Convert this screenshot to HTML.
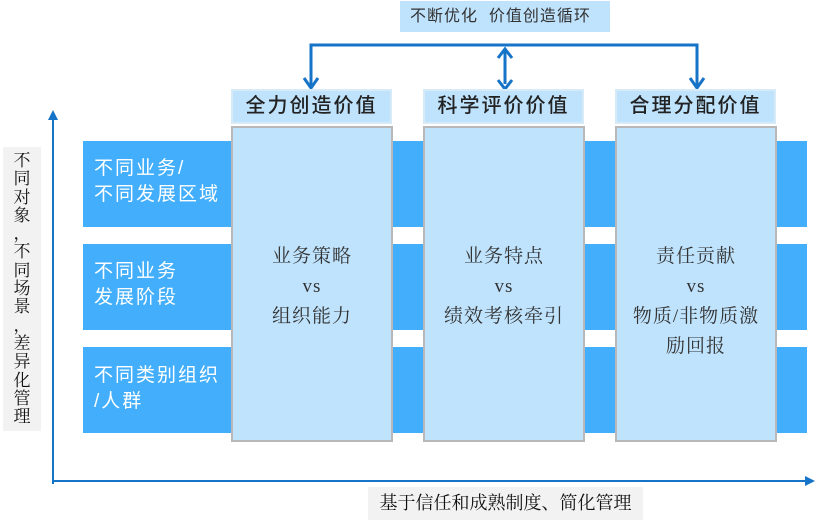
<!DOCTYPE html>
<html><head><meta charset="utf-8"><style>
body{margin:0;width:823px;height:525px;background:#fff;position:relative;overflow:hidden;font-family:"Liberation Sans","Noto Sans CJK SC",sans-serif;}
.a{position:absolute;box-sizing:border-box}
.band{background:#42aefc;left:83px;width:724px;height:86px}
.bt{color:#fff;font-size:19px;line-height:26px;left:94px;letter-spacing:2px}
.hd{background:#bfe3fd;border:2px solid #d6eaf8;height:35px;top:89px;width:161px;font-size:20px;color:#222;text-align:center;line-height:31px;letter-spacing:2px;font-family:"Liberation Sans","Noto Sans CJK SC",sans-serif;font-weight:500}
.col{background:#bfe3fd;border:2px solid #b8b8b8;top:126px;height:316px;width:162px;text-align:center;font-size:19px;color:#333;font-family:"Liberation Serif","Noto Serif CJK SC",serif;letter-spacing:1px}
</style></head><body>
<div class="a" style="left:400px;top:1px;width:210px;height:31px;background:#bfe3fd;font-size:16px;color:#333;line-height:31px;padding-left:10px;letter-spacing:1px">不断优化&nbsp; 价值创造循环</div>
<svg class="a" style="left:0;top:0" width="823" height="525">
<g stroke="#1674c8" stroke-width="3" fill="none">
<path d="M311 88 V45 H697 V88"/>
<path d="M505 50 V84"/>
<path d="M304 78 L311 88 L318 78"/>
<path d="M690 78 L697 88 L704 78"/>
<path d="M498 80 L505 89 L512 80"/>
<path d="M498 58 L505 49 L512 58"/>
</g>
<line x1="53" y1="484" x2="53" y2="118" stroke="#1674c8" stroke-width="2"/>
<polygon points="53,110 48,120 58,120" fill="#1674c8"/>
<line x1="52" y1="481" x2="808" y2="481" stroke="#1674c8" stroke-width="2"/>
<polygon points="815,481 805,476 805,486" fill="#1674c8"/>
</svg>
<div class="a band" style="top:141px"></div>
<div class="a band" style="top:244px"></div>
<div class="a band" style="top:347px"></div>
<div class="a bt" style="top:156px">不同业务/<br>不同发展区域</div>
<div class="a bt" style="top:259px">不同业务<br>发展阶段</div>
<div class="a bt" style="top:363px">不同类别组织<br>/人群</div>
<div class="a hd" style="left:231px">全力创造价值</div>
<div class="a hd" style="left:423px">科学评价价值</div>
<div class="a hd" style="left:615px">合理分配价值</div>
<div class="a col" style="left:231px;padding-top:114px;line-height:30px">业务策略<br>vs<br>组织能力</div>
<div class="a col" style="left:423px;padding-top:114px;line-height:30px">业务特点<br>vs<br>绩效考核牵引</div>
<div class="a col" style="left:615px;padding-top:114px;line-height:30px">责任贡献<br>vs<br>物质/非物质激<br>励回报</div>
<div class="a" style="left:3px;top:147px;width:38px;height:284px;background:#f2f2f2;font-family:'Liberation Serif','Noto Serif CJK SC',serif;font-size:17px;line-height:18.3px;text-align:center;padding-top:5px;color:#111">不<br>同<br>对<br>象<br>，<br>不<br>同<br>场<br>景<br>，<br>差<br>异<br>化<br>管<br>理</div>
<div class="a" style="left:368px;top:487px;width:275px;height:33px;background:#f2f2f2;font-family:'Liberation Serif','Noto Serif CJK SC',serif;font-size:18px;line-height:33px;text-align:center;color:#111">基于信任和成熟制度、简化管理</div>
</body></html>
